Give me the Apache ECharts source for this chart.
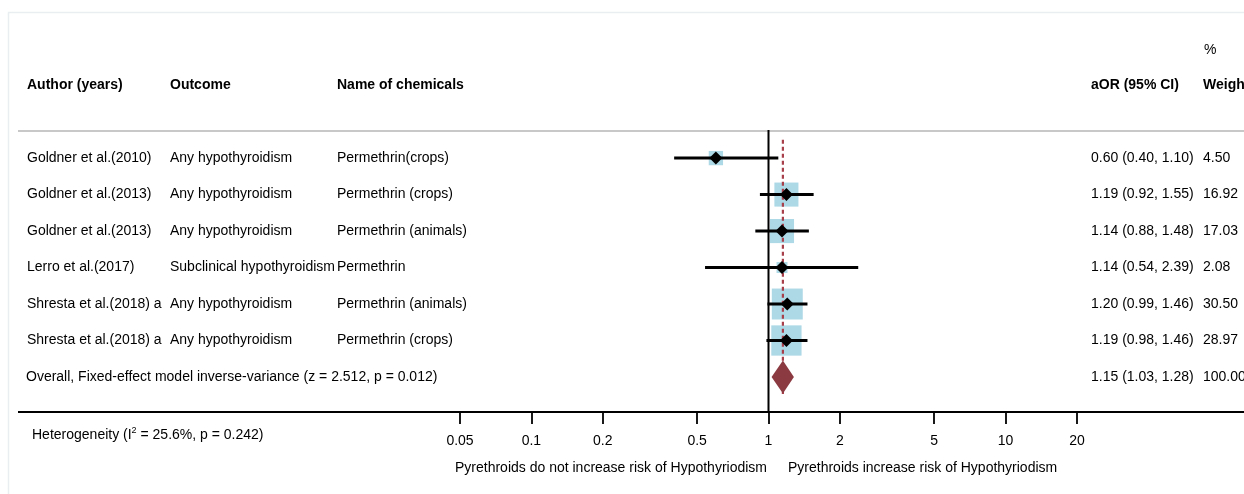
<!DOCTYPE html>
<html>
<head>
<meta charset="utf-8">
<script src="https://cdn.jsdelivr.net/npm/echarts@6/dist/echarts.min.js"></script>
<style>
  html, body { margin: 0; padding: 0; background: #fff; }
  #chart { width: 1244px; height: 494px; }
</style>
</head>
<body>
<div id="chart"></div>
<script>
// Study rows
const authors = ['Goldner et al.(2010)', 'Goldner et al.(2013)', 'Goldner et al.(2013)', 'Lerro et al.(2017)', 'Shresta et al.(2018) a', 'Shresta et al.(2018) a'];
const outcomes = ['Any hypothyroidism', 'Any hypothyroidism', 'Any hypothyroidism', 'Subclinical hypothyroidism', 'Any hypothyroidism', 'Any hypothyroidism'];
const chemicals = ['Permethrin(crops)', 'Permethrin (crops)', 'Permethrin (animals)', 'Permethrin', 'Permethrin (animals)', 'Permethrin (crops)'];
const aor = [0.60, 1.19, 1.14, 1.14, 1.20, 1.19];
const lower = [0.40, 0.92, 0.88, 0.54, 0.99, 0.98];
const upper = [1.10, 1.55, 1.48, 2.39, 1.46, 1.46];
const weights = [4.50, 16.92, 17.03, 2.08, 30.50, 28.97];

// Pooled estimate
const pooledLabel = 'Overall, Fixed-effect model inverse-variance (z = 2.512, p = 0.012)';
const pooledAor = 1.15;
const pooledLower = 1.03;
const pooledUpper = 1.28;
const pooledWeight = 100.00;
const heterogeneityI2 = '25.6%';
const heterogeneityP = '0.242';

// Axis
const xTicks = [0.05, 0.1, 0.2, 0.5, 1, 2, 5, 10, 20];
const headers = ['Author (years)', 'Outcome', 'Name of chemicals', 'aOR (95% CI)', 'Weight'];
const sideLabels = ['Pyrethroids do not increase risk of Hypothyriodism', 'Pyrethroids increase risk of Hypothyriodism'];

const FONT = '"Liberation Sans", Arial, Helvetica, sans-serif';
const colX = [27, 170, 337, 1091, 1203];
const nRows = aor.length;
const pooledRow = nRows;

function ciText(e, l, u) {
  return e.toFixed(2) + ' (' + l.toFixed(2) + ', ' + u.toFixed(2) + ')';
}

const rowData = aor.map((v, i) => [v, i, lower[i], upper[i], weights[i]]);

const chart = echarts.init(document.getElementById('chart'), null, { renderer: 'canvas' });

function txt(x, y, text, extra) {
  return {
    type: 'text', x: x, y: y,
    style: Object.assign({ text: text, font: '14px ' + FONT, fill: '#000', verticalAlign: 'middle' }, extra || {})
  };
}

const option = {
  animation: false,
  backgroundColor: '#fff',
  grid: { left: 460, right: 167, top: 130, bottom: 82 },
  xAxis: {
    type: 'log', logBase: 10, min: 0.05, max: 20,
    position: 'bottom',
    splitLine: { show: false },
    axisLine: { show: false, onZero: false },
    axisTick: { show: true, customValues: xTicks, length: 12, lineStyle: { color: '#000', width: 1.8 } },
    axisLabel: {
      customValues: xTicks, margin: 22, color: '#000', fontSize: 14, fontFamily: FONT,
      formatter: v => String(Number(Number(v).toPrecision(6)))
    }
  },
  yAxis: { type: 'value', inverse: true, min: -0.77, max: 6.96, show: false },
  series: [
    // weight boxes
    {
      type: 'custom', z: 1, clip: false,
      data: rowData,
      encode: { x: 0, y: 1 },
      renderItem: function (params, api) {
        const p = api.coord([api.value(0), api.value(1)]);
        const s = 3.9 + 4.9 * Math.sqrt(api.value(4));
        return { type: 'rect', shape: { x: p[0] - s / 2, y: p[1] - s / 2, width: s, height: s }, style: { fill: '#add8e6' } };
      }
    },
    // null line
    {
      type: 'line', z: 2, symbol: 'none', silent: true,
      data: [[1, -0.77], [1, 6.96]],
      lineStyle: { color: '#000', width: 2 }
    },
    // pooled estimate reference line
    {
      type: 'line', z: 3, symbol: 'none', silent: true,
      data: [[pooledAor, -0.5], [pooledAor, 6.47]],
      lineStyle: { color: '#a8404c', width: 2.2, type: [4, 3] }
    },
    // confidence intervals
    {
      type: 'custom', z: 4, clip: false,
      data: rowData,
      encode: { x: 0, y: 1 },
      renderItem: function (params, api) {
        const a = api.coord([api.value(2), api.value(1)]);
        const b = api.coord([api.value(3), api.value(1)]);
        return { type: 'line', shape: { x1: a[0], y1: a[1], x2: b[0], y2: b[1] }, style: { stroke: '#000', lineWidth: 3 } };
      }
    },
    // point estimates
    {
      type: 'scatter', z: 5, symbol: 'diamond', symbolSize: 13,
      data: rowData.map(r => [r[0], r[1]]),
      itemStyle: { color: '#000', opacity: 1 }
    },
    // pooled diamond
    {
      type: 'custom', z: 6, clip: false,
      data: [[pooledAor, pooledRow, pooledLower, pooledUpper]],
      encode: { x: 0, y: 1 },
      renderItem: function (params, api) {
        const c = api.coord([api.value(0), api.value(1)]);
        const l = api.coord([api.value(2), api.value(1)]);
        const r = api.coord([api.value(3), api.value(1)]);
        const h = 16.5;
        return {
          type: 'polygon',
          shape: { points: [[l[0], c[1]], [c[0], c[1] - h], [r[0], c[1]], [c[0], c[1] + h]] },
          style: { fill: '#8c3a41' }
        };
      }
    },
    // table text for each row
    {
      type: 'custom', z: 7, clip: false, silent: true,
      data: aor.map((v, i) => [1, i]).concat([[1, pooledRow]]),
      encode: { x: 0, y: 1 },
      renderItem: function (params, api) {
        const i = params.dataIndex;
        const y = api.coord([1, api.value(1)])[1];
        let children;
        if (i < nRows) {
          children = [
            txt(colX[0], y, authors[i]),
            txt(colX[1], y, outcomes[i]),
            txt(colX[2], y, chemicals[i]),
            txt(colX[3], y, ciText(aor[i], lower[i], upper[i])),
            txt(colX[4], y, weights[i].toFixed(2))
          ];
        } else {
          children = [
            txt(26, y, pooledLabel),
            txt(colX[3], y, ciText(pooledAor, pooledLower, pooledUpper)),
            txt(colX[4], y, pooledWeight.toFixed(2))
          ];
        }
        return { type: 'group', children: children };
      }
    }
  ],
  graphic: [
    { type: 'rect', shape: { x: 8.5, y: 12.5, width: 1260, height: 500 }, style: { fill: 'none', stroke: '#e9eff0', lineWidth: 1.5 }, silent: true, z: 0 },
    { type: 'line', shape: { x1: 18, y1: 131, x2: 1244, y2: 131 }, style: { stroke: '#c8c8c8', lineWidth: 2 }, z: 1 },
    { type: 'line', shape: { x1: 18, y1: 412, x2: 1244, y2: 412 }, style: { stroke: '#000', lineWidth: 2 }, z: 1 },
    txt(colX[0], 85, headers[0], { font: 'bold 14px ' + FONT }),
    txt(colX[1], 85, headers[1], { font: 'bold 14px ' + FONT }),
    txt(colX[2], 85, headers[2], { font: 'bold 14px ' + FONT }),
    txt(colX[3], 85, headers[3], { font: 'bold 14px ' + FONT }),
    txt(colX[4], 85, headers[4], { font: 'bold 14px ' + FONT }),
    txt(1204, 50, '%'),
    {
      type: 'text', x: 32, y: 435,
      style: {
        text: '{a|Heterogeneity (I}{s|2}{a| = ' + heterogeneityI2 + ', p = ' + heterogeneityP + ')}',
        verticalAlign: 'middle',
        rich: {
          a: { fontSize: 14, fontFamily: FONT, color: '#000', lineHeight: 18 },
          s: { fontSize: 9, fontFamily: FONT, color: '#000', verticalAlign: 'top', lineHeight: 12 }
        }
      }
    },
    txt(767, 468, sideLabels[0], { align: 'right' }),
    txt(788, 468, sideLabels[1])
  ]
};

chart.setOption(option);
</script>
</body>
</html>
